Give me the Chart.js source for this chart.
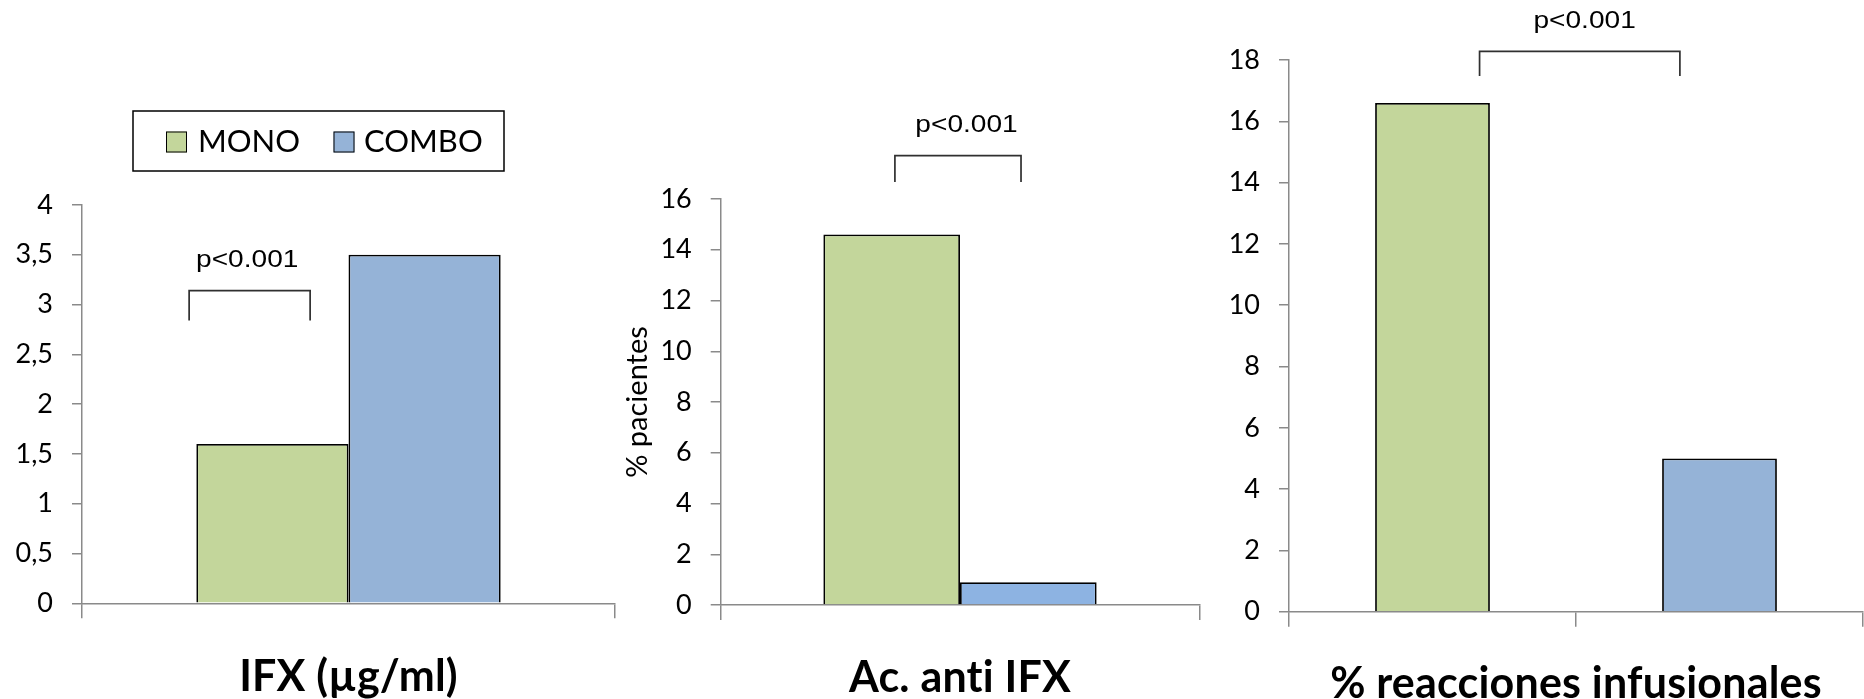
<!DOCTYPE html>
<html>
<head>
<meta charset="utf-8">
<script src="https://cdn.jsdelivr.net/npm/chart.js@4.4.0/dist/chart.umd.min.js"></script>
<style>
html,body{margin:0;padding:0;background:#ffffff;width:1864px;height:699px;overflow:hidden;}
canvas{position:absolute;top:0;}
</style>
</head>
<body>
<canvas id="c1" width="630" height="699" style="left:0px;width:630px;height:699px"></canvas>
<canvas id="c2" width="640" height="699" style="left:580px;width:640px;height:699px"></canvas>
<canvas id="c3" width="654" height="699" style="left:1210px;width:654px;height:699px"></canvas>
<script>
// ---------------- DATA ----------------
const seriesNames = ['MONO', 'COMBO'];

const ifxCategories = ['IFX (µg/ml)'];
const ifxMono = [1.6];
const ifxCombo = [3.5];
const ifxTickLabels = ['0', '0,5', '1', '1,5', '2', '2,5', '3', '3,5', '4'];

const antiCategories = ['Ac. anti IFX'];
const antiMono = [14.6];
const antiCombo = [0.9];
const antiTickLabels = ['0', '2', '4', '6', '8', '10', '12', '14', '16'];
const antiAxisTitle = '% pacientes';

const reacCategories = ['MONO', 'COMBO'];
const reacValues = [16.6, 5.0];
const reacTickLabels = ['0', '2', '4', '6', '8', '10', '12', '14', '16', '18'];
const reacTitle = '% reacciones infusionales';

const pValueText = 'p<0.001';

// ---------------- STYLE ----------------
const GREEN = '#c3d69b';
const BLUE = '#95b3d7';
const BLUE2 = '#8db3e2';
const AXIS = '#8a8a8a';
const TICK_FONT = {family: 'Lato', size: 27};

function yScale(max, step, labels, width, extra) {
  return Object.assign({
    min: 0, max: max,
    ticks: {
      stepSize: step, color: '#000', font: TICK_FONT, padding: 19,
      callback: (v) => labels[Math.round(v / step)]
    },
    grid: {drawOnChartArea: false, drawTicks: true, tickLength: 10, color: AXIS, lineWidth: 1.5},
    border: {display: true, color: AXIS, width: 1.5},
    afterFit: (s) => { s.width = width; }
  }, extra || {});
}
function xScale() {
  return {
    type: 'category', offset: true,
    ticks: {display: false},
    grid: {offset: true, drawOnChartArea: false, drawTicks: true, tickLength: 15, color: AXIS, lineWidth: 1.5},
    border: {display: true, color: AXIS, width: 1.5},
    afterFit: (s) => { s.height = 20; }
  };
}

const decor = {
  id: 'decor',
  afterDraw(chart, args, o) {
    const ctx = chart.ctx, ca = chart.chartArea, y = chart.scales.y;
    const w = ca.right - ca.left;
    ctx.save();
    if (o.bracket) {
      const b = o.bracket;
      const x1 = ca.left + b.x1 * w, x2 = ca.left + b.x2 * w;
      const yt = y.getPixelForValue(b.top), yb = y.getPixelForValue(b.bottom);
      ctx.strokeStyle = '#303030';
      ctx.lineWidth = 1.7;
      ctx.beginPath();
      ctx.moveTo(x1, yb); ctx.lineTo(x1, yt); ctx.lineTo(x2, yt); ctx.lineTo(x2, yb);
      ctx.stroke();
      ctx.save();
      ctx.translate(ca.left + b.textX * w, y.getPixelForValue(b.textY));
      ctx.scale(1.17, 1);
      ctx.fillStyle = '#000';
      ctx.font = '24px "Liberation Sans"';
      ctx.textAlign = 'center';
      ctx.textBaseline = 'alphabetic';
      ctx.fillText(pValueText, 0, 0);
      ctx.restore();
    }
    if (o.title) {
      ctx.save();
      ctx.fillStyle = '#000';
      ctx.font = 'bold 43px Lato';
      ctx.letterSpacing = '0.2px';
      ctx.textAlign = 'center';
      ctx.textBaseline = 'alphabetic';
      ctx.fillText(o.title, (ca.left + ca.right) / 2, o.titleBaseline);
      ctx.restore();
    }
    if (o.legend) {
      const L = o.legend;
      ctx.strokeStyle = '#000';
      ctx.lineWidth = 1.5;
      ctx.strokeRect(L.x, L.y, L.w, L.h);
      ctx.font = '31px Lato';
      ctx.textAlign = 'left';
      ctx.textBaseline = 'alphabetic';
      chart.data.datasets.forEach((ds, i) => {
        const it = L.items[i];
        ctx.fillStyle = ds.backgroundColor;
        ctx.fillRect(it.box, L.boxY, L.boxS, L.boxS);
        ctx.lineWidth = 1;
        ctx.strokeRect(it.box + 0.5, L.boxY + 0.5, L.boxS - 1, L.boxS - 1);
        ctx.fillStyle = '#000';
        ctx.fillText(ds.label, it.text, L.baseline);
      });
    }
    ctx.restore();
  }
};

const common = {
  responsive: false,
  animation: false,
  events: [],
  plugins: {legend: {display: false}, tooltip: {enabled: false}}
};

function build() {
  // Chart 1
  new Chart(document.getElementById('c1'), {
    type: 'bar',
    data: {
      labels: ifxCategories,
      datasets: [
        {label: seriesNames[0], data: ifxMono, backgroundColor: GREEN, borderColor: '#000', borderWidth: 1.8},
        {label: seriesNames[1], data: ifxCombo, backgroundColor: BLUE, borderColor: '#000', borderWidth: 1.8}
      ]
    },
    options: Object.assign({}, common, {
      categoryPercentage: 0.571, barPercentage: 1,
      layout: {padding: {left: 0, right: 15, top: 205, bottom: 699 - 603.3 - 20}},
      scales: {x: xScale(), y: yScale(4, 0.5, ifxTickLabels, 82)},
      plugins: Object.assign({}, common.plugins, {
        decor: {
          bracket: {x1: 0.201, x2: 0.428, top: 3.14, bottom: 2.84, textX: 0.31, textY: 3.38},
          title: ifxCategories[0], titleBaseline: 691,
          legend: {x: 133, y: 111, w: 371, h: 60, boxY: 131.5, boxS: 21, baseline: 152,
                   items: [{box: 166, text: 198}, {box: 333.5, text: 364}]}
        }
      })
    }),
    plugins: [decor]
  });

  // Chart 2
  new Chart(document.getElementById('c2'), {
    type: 'bar',
    data: {
      labels: antiCategories,
      datasets: [
        {label: seriesNames[0], data: antiMono, backgroundColor: GREEN, borderColor: '#000', borderWidth: 1.8},
        {label: seriesNames[1], data: antiCombo, backgroundColor: BLUE2, borderColor: '#000', borderWidth: 1.8}
      ]
    },
    options: Object.assign({}, common, {
      categoryPercentage: 0.571, barPercentage: 1,
      layout: {padding: {left: 0, right: 1220 - 1199.3, top: 199, bottom: 699 - 605 - 20}},
      scales: {
        x: xScale(),
        y: yScale(16, 2, antiTickLabels, 140.7, {
          title: {display: true, text: antiAxisTitle, color: '#000',
                  font: {family: 'Lato', size: 29, lineHeight: 1}, padding: {top: 43, bottom: 0}}
        })
      },
      plugins: Object.assign({}, common.plugins, {
        decor: {
          bracket: {x1: 0.364, x2: 0.6275, top: 17.71, bottom: 16.67, textX: 0.5136, textY: 18.64},
          title: antiCategories[0], titleBaseline: 692
        }
      })
    }),
    plugins: [decor]
  });

  // Chart 3
  new Chart(document.getElementById('c3'), {
    type: 'bar',
    data: {
      labels: reacCategories,
      datasets: [
        {label: reacTitle, data: reacValues, backgroundColor: [GREEN, BLUE], borderColor: '#000', borderWidth: 1.8}
      ]
    },
    options: Object.assign({}, common, {
      categoryPercentage: 0.4, barPercentage: 1,
      layout: {padding: {left: 0, right: 1, top: 60, bottom: 699 - 611.7 - 20}},
      scales: {x: xScale(), y: yScale(18, 2, reacTickLabels, 79)},
      plugins: Object.assign({}, common.plugins, {
        decor: {
          bracket: {x1: 0.332, x2: 0.681, top: 18.28, bottom: 17.48, textX: 0.515, textY: 19.04},
          title: reacTitle, titleBaseline: 698
        }
      })
    }),
    plugins: [decor]
  });
}

const fontLoads = ['27px Lato', 'bold 43px Lato', '24px "Liberation Sans"'].map(f => document.fonts.load(f).catch(() => null));
Promise.all(fontLoads).then(build, build);
</script>
</body>
</html>
